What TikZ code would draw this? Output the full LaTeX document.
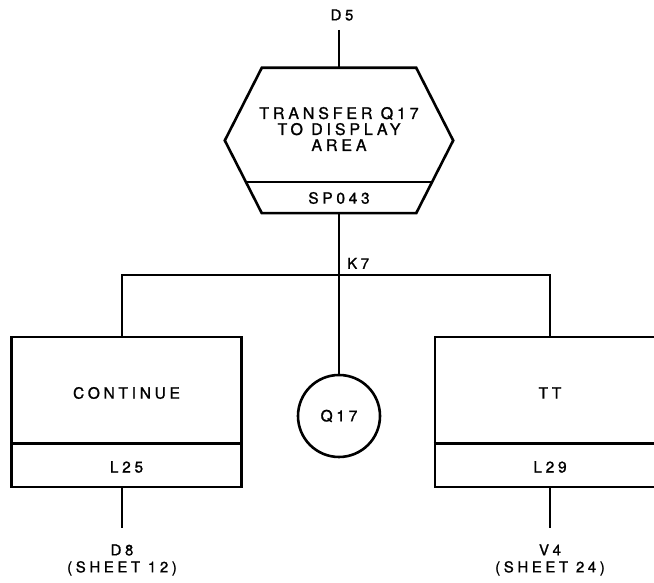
\documentclass[tikz,border=0pt]{standalone}
\usepackage{fontspec}
\newfontfamily\lettering[LetterSpace=24,FakeBold=1.2]{TeX Gyre Heros}
\usetikzlibrary{calc}
\tikzset{
  flowLine/.style={line width=2.6pt},
  procBox/.style={draw, flowLine, minimum width=230pt, minimum height=150pt, inner sep=0pt},
  hexArea/.style={minimum width=228pt, minimum height=145pt, inner sep=0pt},
  connCircle/.style={draw, flowLine, circle, minimum size=82pt, inner sep=0pt},
  Lbl/.style={font=\lettering\fontsize{15.5}{17}\selectfont, align=center, inner sep=1pt},
  smallLbl/.style={Lbl, font=\lettering\fontsize{15}{17}\selectfont}
}
\begin{document}
\begin{tikzpicture}[x=1pt,y=1pt]
  \useasboundingbox (0,0) rectangle (654,583);
  \node[smallLbl] (entry) at (342,568) {D5};
  \coordinate (entryEnd) at (339,553);
  \node[hexArea] (transfer) at (339,442.5) {};
  \draw[flowLine, line join=miter] ([xshift=37pt]transfer.north west) -- ([xshift=-37pt]transfer.north east)
    -- (transfer.east) -- ([xshift=-37pt]transfer.south east)
    -- ([xshift=37pt]transfer.south west) -- (transfer.west) -- cycle;
  \draw[flowLine] ($(transfer.west)!0.57!([xshift=37pt]transfer.south west)$)
    -- ($(transfer.east)!0.57!([xshift=-37pt]transfer.south east)$);
  \node[Lbl, font=\lettering\fontsize{16}{16}\selectfont] (transferText) at (339,454)
    {TRANSFER Q17\\TO DISPLAY\\AREA};
  \node[Lbl] (transferId) at (339,385) {SP043};
  \coordinate (split) at (339,308);
  \node[smallLbl, anchor=south west] (splitLbl) at (346,313) {K7};
  \node[procBox] (cont) at (126.5,171) {};
  \draw[flowLine] ([yshift=-108pt]cont.north west) -- ([yshift=-108pt]cont.north east);
  \node[Lbl] (contText) at (126.5,190) {CONTINUE};
  \node[Lbl] (contId) at (126.5,116) {L25};
  \node[connCircle] (qref) at (339,167) {};
  \node[Lbl] (qrefText) at (339,167) {Q17};
  \node[procBox] (tt) at (550,171) {};
  \draw[flowLine] ([yshift=-108pt]tt.north west) -- ([yshift=-108pt]tt.north east);
  \node[Lbl] (ttText) at (550,190) {TT};
  \node[Lbl] (ttId) at (550,116) {L29};
  \coordinate (contEnd) at (122,55);
  \coordinate (ttEnd) at (550,55);
  \node[smallLbl] (contExit) at (122,23) {D8\\(SHEET 12)};
  \node[smallLbl] (ttExit) at (550,23) {V4\\(SHEET 24)};
  \draw[flowLine] (entryEnd) -- (transfer.north);
  \draw[flowLine] (transfer.south) -- (split) -- (qref.north);
  \draw[flowLine] (cont.north -| contEnd) |- (split) -| (tt.north);
  \draw[flowLine] (cont.south -| contEnd) -- (contEnd);
  \draw[flowLine] (tt.south) -- (ttEnd);
\end{tikzpicture}
\end{document}
